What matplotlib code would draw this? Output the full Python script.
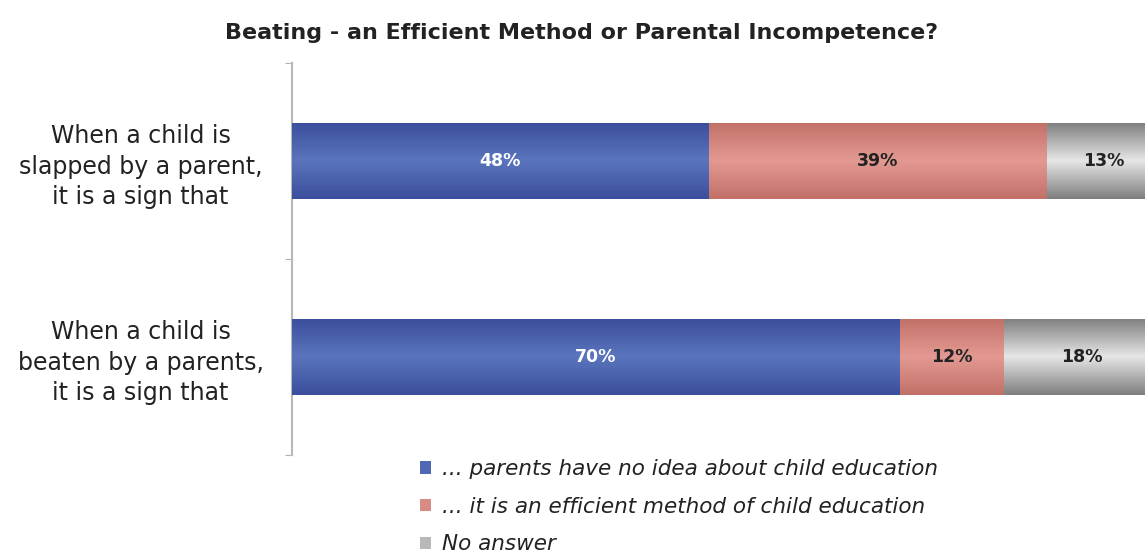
import matplotlib
matplotlib.use("Agg")
import matplotlib.pyplot as plt
import numpy as np
from matplotlib.colors import LinearSegmentedColormap
from matplotlib.patches import Patch

plt.rcParams['font.family'] = ['DejaVu Sans']

title = "Beating - an Efficient Method or Parental Incompetence?"
categories = ["When a child is\nslapped by a parent,\nit is a sign that",
              "When a child is\nbeaten by a parents,\nit is a sign that"]
series_names = ["... parents have no idea about child education",
                "... it is an efficient method of child education",
                "No answer"]
no_idea = [48, 70]
efficient = [39, 12]
no_answer = [13, 18]

series = [no_idea, efficient, no_answer]
base_colors = ["#4f68b3", "#d98a82", "#b8b8b8"]
grad = [["#3b4f9c", "#5a75bd", "#3b4f9c"],
        ["#c27068", "#e39a92", "#c27068"],
        ["#7f7f7f", "#e6e6e6", "#7f7f7f"]]
text_colors = ["white", "#222222", "#222222"]

W, H = 1145, 558
fig = plt.figure(figsize=(W / 100, H / 100), dpi=100)
ax = fig.add_axes([292 / W, 1 - 455 / H, 868 / W, (455 - 63) / H])

y = np.arange(len(categories))
left = np.zeros(len(categories))
for s, vals in enumerate(series):
    bars = ax.barh(y, vals, left=left, height=0.39, color=base_colors[s],
                   edgecolor='none', zorder=2)
    cmap = LinearSegmentedColormap.from_list(f"g{s}", grad[s])
    for b, v in zip(bars, vals):
        x0, y0 = b.get_x(), b.get_y()
        w, h = b.get_width(), b.get_height()
        g = np.linspace(0, 1, 100).reshape(-1, 1)
        im = ax.imshow(g, cmap=cmap, aspect='auto',
                       extent=[x0, x0 + w, y0, y0 + h], zorder=3,
                       interpolation='bicubic')
        im.set_clip_path(b)
        ax.text(x0 + w / 2, y0 + h / 2, f"{v}%", ha='center', va='center',
                color=text_colors[s], fontsize=12.5, fontweight='bold', zorder=4)
    left = left + np.array(vals)

ax.set_xlim(0, 100)
ax.set_ylim(1.5, -0.5)
ax.set_yticks([-0.5, 0.5, 1.5])
ax.set_yticklabels([])
ax.set_yticks(y, minor=True)
ax.set_yticklabels(categories, minor=True, fontsize=17, color="#222222",
                   ha='center', linespacing=1.35)
ax.tick_params(axis='y', which='minor', length=0, pad=109)
ax.tick_params(axis='y', which='major', length=5, color="#b0b0b0", direction='out')
ax.set_xticks([])
for sp in ['top', 'right', 'bottom']:
    ax.spines[sp].set_visible(False)
ax.spines['left'].set_color("#b8b8b8")
ax.spines['left'].set_linewidth(1.5)

fig.text(582 / W, 1 - 33 / H, title, ha='center', va='center',
         fontsize=16, fontweight='bold', color="#222222")

handles = [Patch(facecolor=c, edgecolor='none') for c in base_colors]
leg = fig.legend(handles, series_names, loc='upper left',
                 bbox_to_anchor=(405 / W, 1 - 444 / H), frameon=False,
                 handlelength=0.5, handleheight=0.5, handletextpad=0.5,
                 labelspacing=0.82, borderpad=0.2,
                 prop={'size': 15.5, 'style': 'oblique'})
for t in leg.get_texts():
    t.set_color("#222222")

fig.savefig("out.png", dpi=100, facecolor='white')
